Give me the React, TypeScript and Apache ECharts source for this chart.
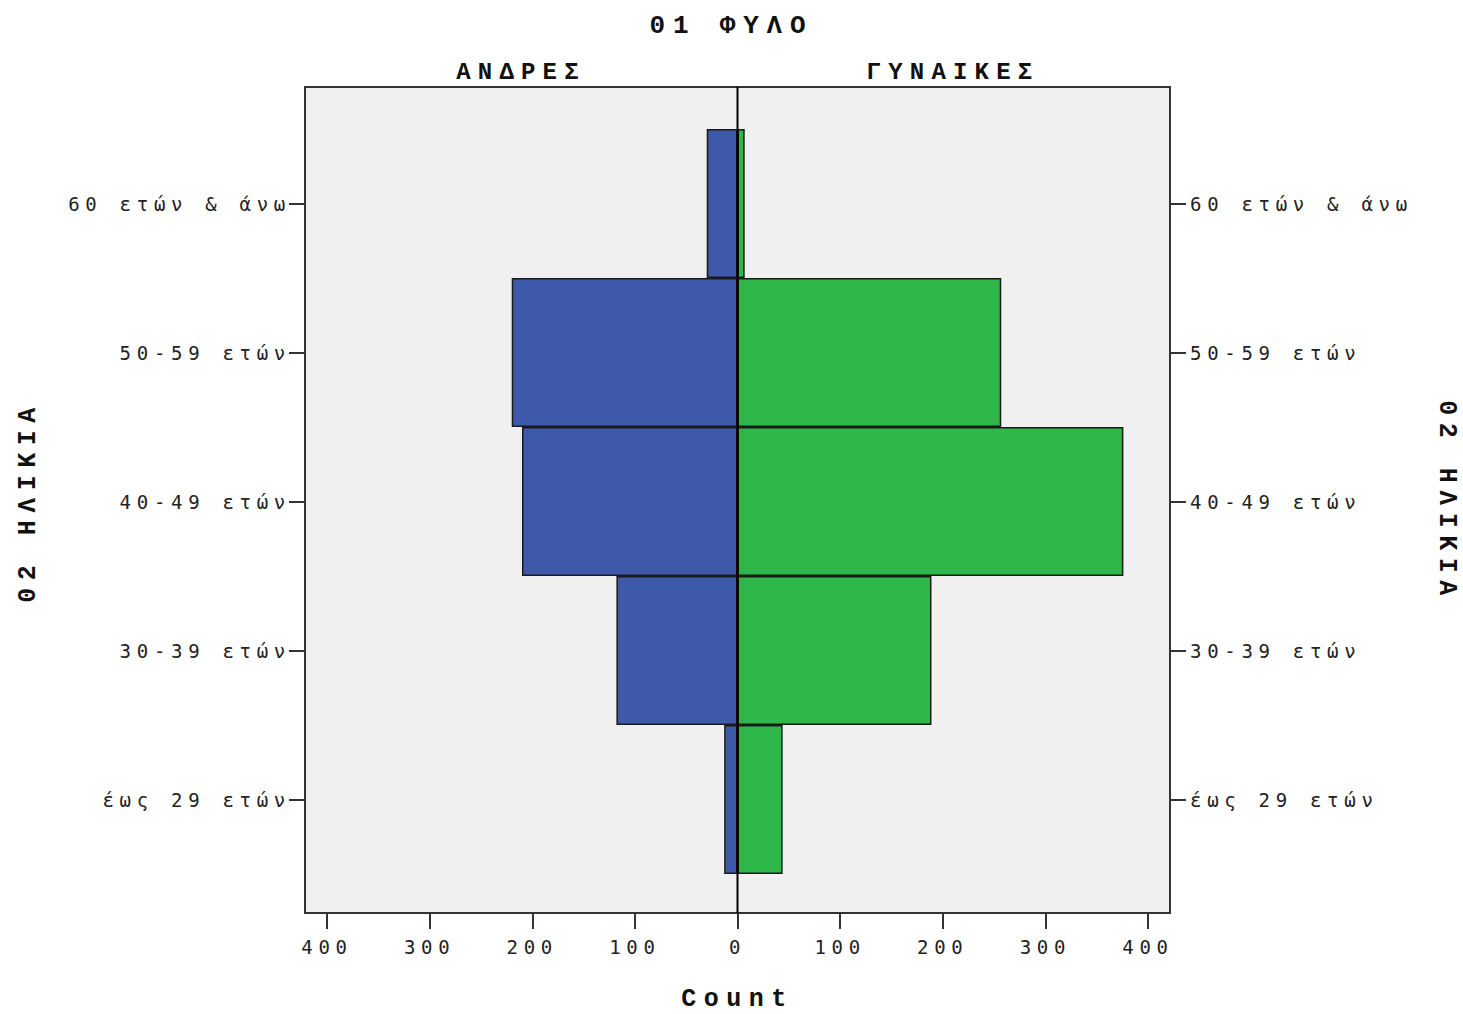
import React, { useEffect, useRef } from "react";
import * as echarts from "echarts";

// Age groups, bottom to top
const categories = ["έως 29 ετών", "30-39 ετών", "40-49 ετών", "50-59 ετών", "60 ετών & άνω"];
const maleCounts = [13, 118, 210, 220, 30];
const femaleCounts = [44, 189, 376, 257, 7];
const sexLabels = ["ΑΝΔΡΕΣ", "ΓΥΝΑΙΚΕΣ"];
const titleText = "01 ΦΥΛΟ";
const ageAxisName = "02 ΗΛΙΚΙΑ";
const countAxisName = "Count";

const BLUE = "#3e58aa";
const GREEN = "#2eb84a";
const TICK_FONT = "'DejaVu Sans Mono', monospace";
const HEAD_FONT = "'Liberation Mono', 'DejaVu Sans Mono', monospace";

export default function App() {
  const ref = useRef<HTMLDivElement>(null);

  useEffect(() => {
    if (!ref.current) return;
    const chart = echarts.init(ref.current, undefined, { renderer: "svg" });

    const catAxisCommon = {
      type: "category",
      data: categories,
      gridIndex: 0,
      offset: 22,
      boundaryGap: true,
      axisLine: { show: false, onZero: false },
      axisTick: { show: true, alignWithLabel: true, length: 16, lineStyle: { color: "#333", width: 2 } },
      axisLabel: { color: "#222", fontFamily: TICK_FONT, fontSize: 19 },
      nameLocation: "middle",
      nameGap: 264,
      nameTextStyle: { fontFamily: HEAD_FONT, fontWeight: "bold", fontSize: 25, color: "#111" },
    };

    chart.setOption({
      animation: false,
      backgroundColor: "#ffffff",
      title: {
        text: titleText,
        left: "center",
        top: 8,
        textStyle: { fontFamily: HEAD_FONT, fontWeight: "bold", fontSize: 26, color: "#111" },
      },
      graphic: [
        {
          type: "text",
          x: 521,
          y: 72,
          style: {
            text: sexLabels[0],
            align: "center",
            verticalAlign: "middle",
            font: `bold 24px ${HEAD_FONT}`,
            fill: "#111",
          },
        },
        {
          type: "text",
          x: 953,
          y: 72,
          style: {
            text: sexLabels[1],
            align: "center",
            verticalAlign: "middle",
            font: `bold 24px ${HEAD_FONT}`,
            fill: "#111",
          },
        },
      ],
      grid: [
        // inner plotting grid (bands and -400..400)
        { left: 327, top: 129, width: 821, height: 745, show: false, containLabel: false, outerBoundsMode: "none" },
        // frame
        {
          left: 305,
          top: 87,
          width: 865,
          height: 826,
          show: true,
          containLabel: false,
          outerBoundsMode: "none",
          backgroundColor: "#f0f0f0",
          borderColor: "#333",
          borderWidth: 2,
        },
      ],
      xAxis: [
        {
          type: "value",
          gridIndex: 0,
          min: -400,
          max: 400,
          interval: 100,
          position: "bottom",
          offset: 39,
          axisLine: { show: false, onZero: false },
          axisTick: { show: true, length: 16, lineStyle: { color: "#333", width: 2 } },
          splitLine: { show: false },
          axisLabel: {
            color: "#222",
            fontFamily: TICK_FONT,
            fontSize: 19,
            margin: 24,
            formatter: (v: number) => String(Math.abs(v)),
          },
          name: countAxisName,
          nameLocation: "middle",
          nameGap: 74,
          nameTextStyle: { fontFamily: HEAD_FONT, fontWeight: "bold", fontSize: 25, color: "#111" },
        },
        {
          type: "value",
          gridIndex: 1,
          min: -421.4,
          max: 421.4,
          show: false,
          axisLine: { onZero: false },
        },
      ],
      yAxis: [
        {
          ...catAxisCommon,
          position: "left",
          name: ageAxisName,
          nameRotate: 90,
          axisLabel: { ...catAxisCommon.axisLabel, margin: 14 },
        },
        {
          ...catAxisCommon,
          position: "right",
          name: ageAxisName,
          nameRotate: -90,
          axisLabel: { ...catAxisCommon.axisLabel, margin: 20 },
        },
        {
          type: "value",
          gridIndex: 1,
          min: 0,
          max: 1,
          show: false,
          axisLine: { onZero: false },
        },
      ],
      series: [
        {
          name: sexLabels[0],
          type: "bar",
          xAxisIndex: 0,
          yAxisIndex: 0,
          stack: "pyr",
          barCategoryGap: "0%",
          data: maleCounts.map((v) => -v),
          itemStyle: { color: BLUE, borderColor: "#1a1a1a", borderWidth: 1.5 },
        },
        {
          name: sexLabels[1],
          type: "bar",
          xAxisIndex: 0,
          yAxisIndex: 0,
          stack: "pyr",
          barCategoryGap: "0%",
          data: femaleCounts,
          itemStyle: { color: GREEN, borderColor: "#1a1a1a", borderWidth: 1.5 },
        },
        {
          type: "line",
          xAxisIndex: 1,
          yAxisIndex: 2,
          data: [
            [0, 0],
            [0, 1],
          ],
          symbol: "none",
          lineStyle: { color: "#000", width: 2 },
          z: 10,
          silent: true,
        },
      ],
    });

    return () => chart.dispose();
  }, []);

  return (
    <>
      <style>{`.pyr svg text { letter-spacing: 0.3em; }`}</style>
      <div
        ref={ref}
        className="pyr"
        style={{ position: "fixed", left: 0, top: 0, width: 1463, height: 1014 }}
      />
    </>
  );
}
